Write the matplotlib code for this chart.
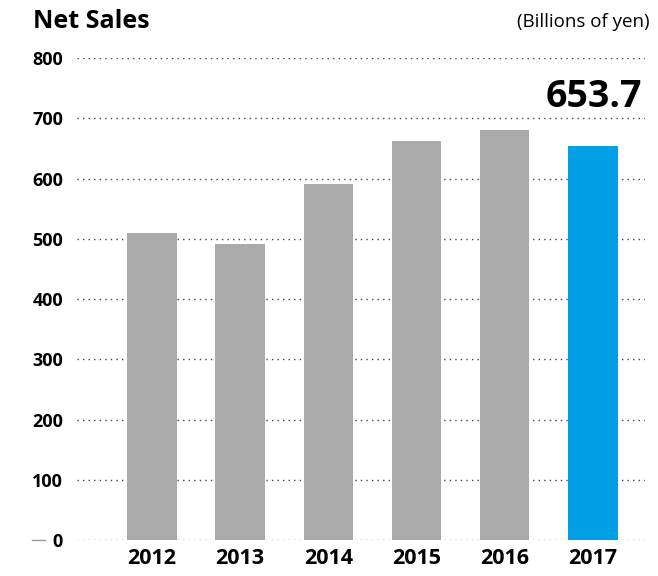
import matplotlib.pyplot as plt
import numpy as np

plt.rcParams['font.family'] = ['Open Sans', 'DejaVu Sans']

years = ["2012", "2013", "2014", "2015", "2016", "2017"]
sales = [509, 491, 591, 662, 680, 653.7]
yticks = [0, 100, 200, 300, 400, 500, 600, 700, 800]

gray = "#a9aaa9"
blue = "#009fe6"
colors = [gray] * 5 + [blue]

fig = plt.figure(figsize=(6.58, 5.76), dpi=100)
ax = fig.add_axes([0.117, 0.0625, 0.863, 0.8365])

x = np.arange(len(years))
for t in yticks:
    ax.axhline(t, color="#444444", lw=1.0, linestyle=(0, (1, 3)), zorder=1)
ax.bar(x, sales, width=0.56, color=colors, zorder=2)

ax.set_xlim(-0.85, 5.59)
ax.set_ylim(0, 800)
ax.set_yticks(yticks)
ax.set_yticklabels([str(t) for t in yticks], fontsize=13, fontweight="bold")
ax.set_xticks(x)
ax.set_xticklabels(years, fontsize=15.5, fontweight="bold")
ax.tick_params(axis="both", length=0, pad=10)
ax.tick_params(axis="x", pad=6)
for s in ax.spines.values():
    s.set_visible(False)

# latest value label above the last bar
ax.text(x[-1] + 0.56, 735, f"{sales[-1]:.1f}", ha="right", va="center",
        fontsize=27, fontweight="bold")

fig.text(0.05, 0.962, "Net Sales", fontsize=18, fontweight="bold", va="center")
fig.text(0.988, 0.962, "(Billions of yen)", fontsize=13.5, ha="right", va="center")

# short gray mark at the zero line
fig.add_artist(plt.Line2D([0.048, 0.068], [0.0625, 0.0625], color="#999999", lw=1))

fig.savefig("out.png", dpi=100)
